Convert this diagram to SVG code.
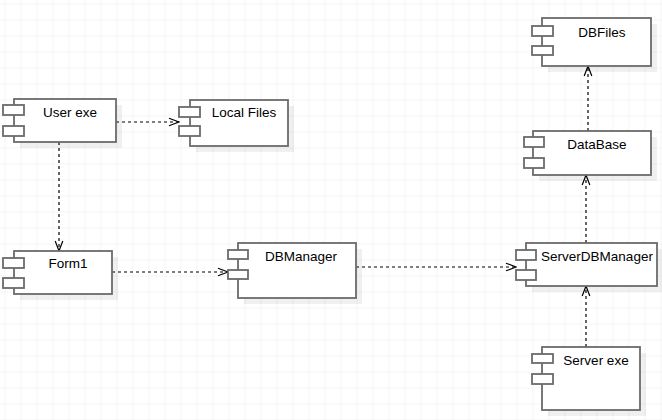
<svg xmlns="http://www.w3.org/2000/svg" width="662" height="420" viewBox="0 0 662 420">
<defs>
<pattern id="grid" x="4.5" y="3.5" width="16" height="16" patternUnits="userSpaceOnUse">
<path d="M0 0H16M0 0V16" fill="none" stroke="#ebebeb" stroke-width="1"/>
</pattern>
<marker id="open" viewBox="0 0 12 10" refX="11" refY="5" markerWidth="12" markerHeight="10" markerUnits="userSpaceOnUse" orient="auto">
<path d="M1 1.2L11 5L1 8.8" fill="none" stroke="#000" stroke-width="1.2"/>
</marker>
</defs>
<style>
.shadow{fill:#000;opacity:0.06}
.box{fill:#fff;stroke:#6b6b6b;stroke-width:1.8}
.lbl{font-family:"Liberation Sans",Arial,sans-serif;font-size:13.5px;fill:#000;text-anchor:middle}
.edge{fill:none;stroke:#000;stroke-width:1.2;stroke-dasharray:3 3;marker-end:url(#open)}
</style>
<rect width="662" height="420" fill="#fff"/>
<rect width="662" height="420" fill="url(#grid)"/>

<g id="connectors">
<path class="edge" d="M116 122H179"/>
<path class="edge" d="M59 142V251"/>
<path class="edge" d="M112 272H228"/>
<path class="edge" d="M356 267H516"/>
<path class="edge" d="M586 243V175"/>
<path class="edge" d="M588 131V66"/>
<path class="edge" d="M586 347V286"/>
</g>

<g id="user-exe">
<rect class="shadow" x="20" y="105" width="102" height="43"/>
<rect class="box" x="14" y="99" width="102" height="43"/>
<rect class="box" x="3" y="105" width="21" height="10"/>
<rect class="box" x="3" y="126" width="21" height="10"/>
<text class="lbl" x="70" y="116.5">User exe</text>
</g>

<g id="local-files">
<rect class="shadow" x="196" y="106" width="98" height="46"/>
<rect class="box" x="190" y="100" width="98" height="46"/>
<rect class="box" x="179" y="107" width="21" height="10"/>
<rect class="box" x="179" y="126" width="21" height="10"/>
<text class="lbl" x="244" y="116.5">Local Files</text>
</g>

<g id="form1">
<rect class="shadow" x="20" y="257" width="98" height="43"/>
<rect class="box" x="14" y="251" width="98" height="43"/>
<rect class="box" x="3" y="258" width="21" height="10"/>
<rect class="box" x="3" y="278" width="21" height="10"/>
<text class="lbl" x="68" y="267.5">Form1</text>
</g>

<g id="dbmanager">
<rect class="shadow" x="244" y="249" width="118" height="55"/>
<rect class="box" x="238" y="243" width="118" height="55"/>
<rect class="box" x="228" y="250" width="20" height="9"/>
<rect class="box" x="228" y="270" width="20" height="9"/>
<text class="lbl" x="301" y="260.5">DBManager</text>
</g>

<g id="dbfiles">
<rect class="shadow" x="548" y="24" width="109" height="48"/>
<rect class="box" x="542" y="18" width="109" height="48"/>
<rect class="box" x="532" y="26" width="21" height="10"/>
<rect class="box" x="532" y="46" width="21" height="9"/>
<text class="lbl" x="602" y="36.5">DBFiles</text>
</g>

<g id="database">
<rect class="shadow" x="539" y="137" width="118" height="44"/>
<rect class="box" x="533" y="131" width="118" height="44"/>
<rect class="box" x="524" y="137" width="20" height="10"/>
<rect class="box" x="524" y="158" width="20" height="10"/>
<text class="lbl" x="597" y="148.5">DataBase</text>
</g>

<g id="serverdbmanager">
<rect class="shadow" x="532" y="249" width="131" height="43"/>
<rect class="box" x="526" y="243" width="131" height="43"/>
<rect class="box" x="516" y="250" width="20" height="10"/>
<rect class="box" x="516" y="270" width="20" height="10"/>
<text class="lbl" x="597" y="260.5">ServerDBManager</text>
</g>

<g id="server-exe">
<rect class="shadow" x="548" y="353" width="98" height="63"/>
<rect class="box" x="542" y="347" width="98" height="63"/>
<rect class="box" x="532" y="354" width="21" height="9"/>
<rect class="box" x="532" y="374" width="21" height="10"/>
<text class="lbl" x="596" y="364.5">Server exe</text>
</g>
</svg>
